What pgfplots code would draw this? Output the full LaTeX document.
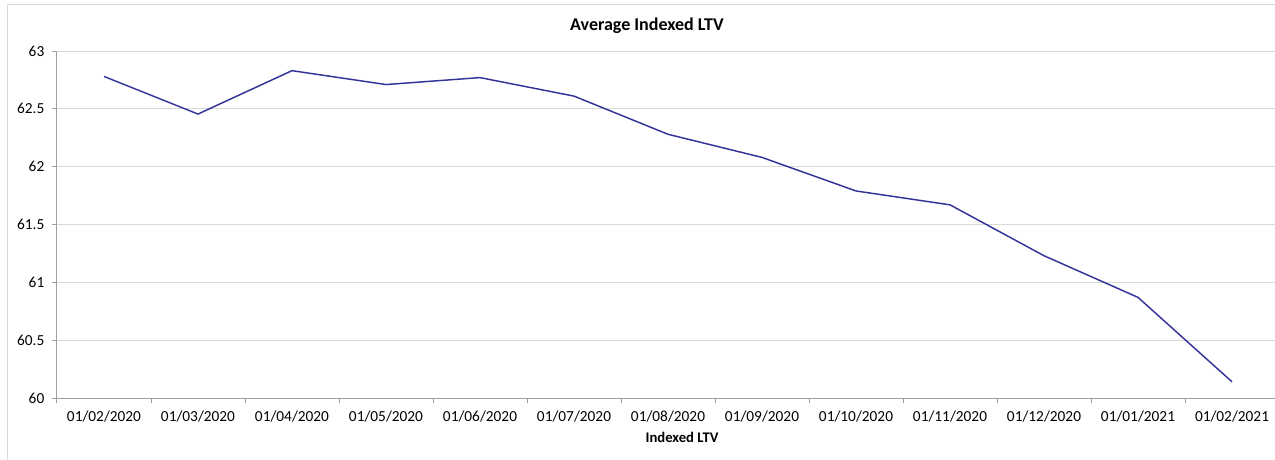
\documentclass[border=0pt]{standalone}
\usepackage{pgfplots}
\pgfplotsset{compat=1.18}
\usepackage{fontspec}
\setmainfont{Carlito}
\definecolor{linecol}{RGB}{51,51,153}
\definecolor{gridcol}{RGB}{217,217,217}
\definecolor{axiscol}{RGB}{160,160,160}
\definecolor{framecol}{RGB}{217,217,217}
\begin{document}
\begin{tikzpicture}
\path[use as bounding box] (0pt,0pt) rectangle (956.25pt,-345pt);
\draw[framecol, line width=0.75pt] (5.25pt,-360pt) -- (5.25pt,-3.75pt) -- (970pt,-3.75pt);
\begin{axis}[
  at={(42.75pt,-298.5pt)}, anchor=south west,
  scale only axis, width=916.5pt, height=260.25pt,
  xmin=-0.5, xmax=12.5, ymin=60, ymax=63,
  axis x line*=bottom, axis y line*=left,
  axis line style={axiscol, line width=0.75pt, -},
  xtick={-0.5,0.5,...,12.5},
  x tick label as interval,
  xticklabels={01/02/2020,01/03/2020,01/04/2020,01/05/2020,01/06/2020,01/07/2020,01/08/2020,01/09/2020,01/10/2020,01/11/2020,01/12/2020,01/01/2021,01/02/2021},
  ytick={60,60.5,...,63},
  yticklabels={60,60.5,61,61.5,62,62.5,63},
  tick align=outside,
  major tick length=4pt,
  tick style={axiscol, line width=0.75pt},
  ymajorgrids,
  grid style={gridcol, line width=0.75pt},
  ticklabel style={font=\fontsize{11.5}{13}\selectfont, text=black},
  xticklabel style={yshift=-2pt},
  yticklabel style={xshift=-2pt},
  clip=false,
]
\addplot[linecol, line width=1.1pt] coordinates {
(0,62.78) (1,62.455) (2,62.83) (3,62.71) (4,62.77) (5,62.61) (6,62.28)
(7,62.08) (8,61.79) (9,61.67) (10,61.23) (11,60.87) (12,60.14)
};
\end{axis}
\node[font=\fontsize{13.5}{16}\selectfont\bfseries] at (485.25pt,-19.5pt) {Average Indexed LTV};
\node[font=\fontsize{11}{13}\selectfont\bfseries] at (511.5pt,-327.75pt) {Indexed LTV};
\end{tikzpicture}
\end{document}
